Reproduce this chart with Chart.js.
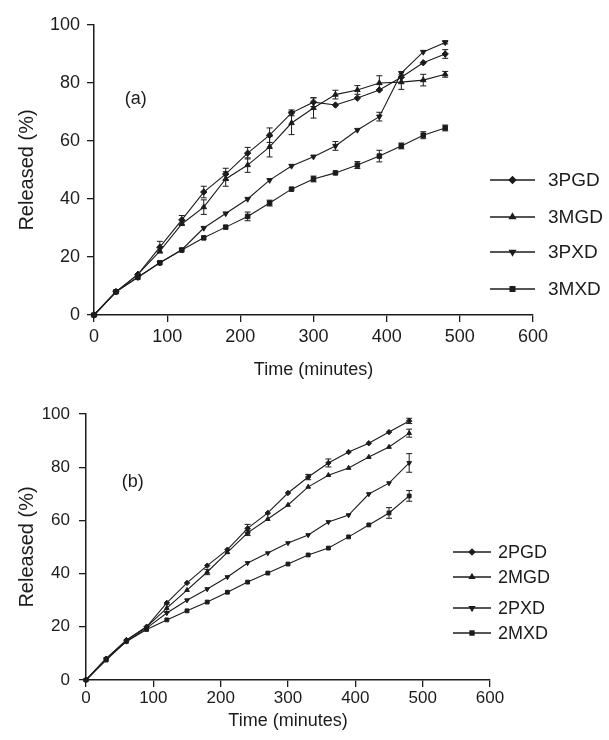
<!DOCTYPE html>
<html>
<head>
<meta charset="utf-8">
<script src="https://cdn.jsdelivr.net/npm/chart.js@4.4.0/dist/chart.umd.min.js"></script>
<style>
  body { margin: 0; background: #fff; }
  #wrap { position: relative; width: 609px; height: 740px; }
  .box { position: absolute; left: 0; }
</style>
</head>
<body>
<div id="wrap">
  <div class="box" style="top:0"><canvas id="chartA" width="609" height="390"></canvas></div>
  <div class="box" style="top:378px"><canvas id="chartB" width="609" height="362"></canvas></div>
</div>
<script>
// sampling times (minutes), same for every series
const times = [0, 30, 60, 90, 120, 150, 180, 210, 240, 270, 300, 330, 360, 390, 420, 450, 480];

// panel (a)
const labelsA = ['3PGD', '3MGD', '3PXD', '3MXD'];
const pgd3 = [0, 8, 14, 23.4, 32.8, 42.4, 48.6, 55.8, 62, 69.7, 73.4, 72.4, 74.8, 77.6, 82, 87, 90];
const mgd3 = [0, 8, 14, 22, 31.4, 37.2, 46.9, 51.7, 58, 66.2, 71.4, 76, 77.6, 80, 80.3, 81, 83];
const pxd3 = [0, 8, 13, 18, 22.5, 30, 35, 40, 46.5, 51.4, 54.6, 58.3, 63.8, 68.4, 83.4, 90.7, 94];
const mxd3 = [0, 8, 13, 18, 22.4, 26.6, 30.3, 34, 38.6, 43.4, 46.9, 49, 51.7, 54.8, 58.3, 62, 64.5];
const pgd3Err = [0, 0, 0, 2, 1.5, 2, 2, 2, 2.5, 1, 1.5, 0, 0, 0, 0, 0, 1.5];
const mgd3Err = [0, 0, 0, 0, 0, 2.5, 2.5, 2.5, 3.5, 4, 3.5, 1.5, 1.5, 2.5, 2.5, 2, 1];
const pxd3Err = [0, 0, 0, 0, 0, 0, 0, 0, 0, 0, 0, 1.5, 0, 1.5, 0, 0, 0.5];
const mxd3Err = [0, 0, 0, 0, 0, 0, 0, 1.5, 1, 0, 1, 0, 1.2, 2, 1, 1.2, 1];

// panel (b)
const labelsB = ['2PGD', '2MGD', '2PXD', '2MXD'];
const pgd2 = [0, 8, 15, 20, 29, 36.5, 43, 49, 57, 62.8, 70.3, 76.3, 81.6, 85.7, 89, 93.2, 97.4];
const mgd2 = [0, 8, 15, 20, 27, 33.8, 40.6, 48, 55.3, 60.5, 65.8, 72.6, 77, 79.7, 83.8, 87.6, 92.8];
const pxd2 = [0, 8, 14.5, 19.5, 25.2, 30, 34.2, 38.7, 44, 47.7, 51.5, 54.5, 59.4, 62, 69.9, 74, 81.6];
const mxd2 = [0, 7.5, 14.5, 19, 22.6, 26, 29.3, 33, 36.8, 40.2, 43.6, 47, 49.6, 53.8, 58.3, 62.8, 69.2];
const pgd2Err = [0, 0, 0, 0, 0, 0, 0, 0, 1.5, 0, 0, 1, 1.5, 0, 0, 0, 1];
const mgd2Err = [0, 0, 0, 0, 1.5, 0, 1, 0, 1, 0, 0, 0, 0, 0, 0, 0, 1.5];
const pxd2Err = [0, 0, 0, 0, 0, 0, 0, 0, 0, 0, 0, 0, 0, 0, 0, 0, 3.5];
const mxd2Err = [0, 0, 0, 0, 0, 0, 0, 0, 0, 0, 0, 0, 0, 0, 0, 2, 2];

const xTicks = [0, 100, 200, 300, 400, 500, 600];
const yTicks = [0, 20, 40, 60, 80, 100];

const ink = '#1c1c1c';
const font = '"Liberation Sans", Arial, sans-serif';
const markers = [
    { pointStyle: 'rectRot', rotation: 0 },
    { pointStyle: 'triangle', rotation: 0 },
    { pointStyle: 'triangle', rotation: 180 },
    { pointStyle: 'rect', rotation: 0 }
];

// error bars, panel tag and legend drawn on top of the datasets
const extras = {
    id: 'extras',
    afterDatasetsDraw(chart, args, opts) {
        const ctx = chart.ctx;
        const xs = chart.scales.x, ys = chart.scales.y;
        ctx.save();
        ctx.strokeStyle = ink;
        ctx.fillStyle = ink;
        ctx.lineWidth = 1;
        chart.data.datasets.forEach((ds, i) => {
            const meta = chart.getDatasetMeta(i);
            ds.errors.forEach((e, j) => {
                if (!e) return;
                const px = meta.data[j].x;
                const top = ys.getPixelForValue(ds.data[j].y + e);
                const bot = ys.getPixelForValue(ds.data[j].y - e);
                ctx.beginPath();
                ctx.moveTo(px, top); ctx.lineTo(px, bot);
                ctx.moveTo(px - 3, top); ctx.lineTo(px + 3, top);
                ctx.moveTo(px - 3, bot); ctx.lineTo(px + 3, bot);
                ctx.stroke();
            });
        });

        ctx.font = opts.tagSize + 'px ' + font;
        ctx.textBaseline = 'middle';
        ctx.textAlign = 'left';
        ctx.fillText(opts.tag, xs.getPixelForValue(opts.tagAt[0]), ys.getPixelForValue(opts.tagAt[1]));

        // legend
        const [x0, x1, tx] = opts.legendX;
        ctx.font = opts.legendSize + 'px ' + font;
        chart.data.datasets.forEach((ds, i) => {
            const ly = opts.legendY[i];
            ctx.lineWidth = 1.5;
            ctx.beginPath();
            ctx.moveTo(x0, ly); ctx.lineTo(x1, ly);
            ctx.stroke();
            Chart.helpers.drawPoint(ctx, {
                pointStyle: ds.pointStyle,
                rotation: ds.pointRotation,
                radius: ds.pointRadius,
                borderWidth: 1
            }, (x0 + x1) / 2, ly);
            ctx.fillStyle = ink;
            ctx.fillText(ds.label, tx, ly + 1);
        });
        ctx.restore();
    }
};

function axis(min, max, ticks, title, size, titleSize, tickPad, titlePad, fixed, isY) {
    return {
        type: 'linear',
        min: min,
        max: max,
        afterBuildTicks: (scale) => { scale.ticks = ticks.map(v => ({ value: v })); },
        afterFit: (scale) => {
            if (isY) scale.width = fixed; else scale.height = fixed;
        },
        ticks: { color: ink, font: { size: size, family: font }, padding: tickPad, maxRotation: 0, autoSkip: false },
        grid: { display: true, drawOnChartArea: false, drawTicks: true, tickLength: 7, color: ink, lineWidth: 1.3 },
        border: { display: true, color: ink, width: 1.5 },
        title: { display: true, text: title, color: ink, font: { size: titleSize, family: font }, padding: titlePad }
    };
}

function makeChart(id, labels, series, errs, radius, layout, xAxis, yAxis, extraOpts) {
    const datasets = series.map((vals, i) => ({
        label: labels[i],
        data: times.map((t, j) => ({ x: t, y: vals[j] })),
        errors: errs[i],
        borderColor: ink,
        backgroundColor: ink,
        borderWidth: 1.1,
        pointStyle: markers[i].pointStyle,
        pointRotation: markers[i].rotation,
        pointRadius: radius,
        pointBorderWidth: 1,
        tension: 0,
        clip: false
    }));
    new Chart(document.getElementById(id), {
        type: 'line',
        data: { datasets: datasets },
        options: {
            responsive: false,
            animation: false,
            layout: { padding: layout },
            plugins: { legend: { display: false }, tooltip: { enabled: false }, extras: extraOpts },
            scales: { x: xAxis, y: yAxis }
        },
        plugins: [extras]
    });
}

makeChart('chartA', labelsA, [pgd3, mgd3, pxd3, mxd3], [pgd3Err, mgd3Err, pxd3Err, mxd3Err], 3.2,
    { left: 0, top: 25, right: 76, bottom: 0 },
    axis(0, 600, xTicks, 'Time (minutes)', 18, 18, 4, { top: 0, bottom: 9 }, 75, false),
    axis(0, 100, yTicks, 'Released (%)', 18, 20, 7, { top: 15, bottom: 0 }, 94, true),
    { tag: '(a)', tagAt: [42, 74.5], tagSize: 18, legendSize: 19,
      legendX: [490, 535, 548], legendY: [180, 217, 252, 289] });

makeChart('chartB', labelsB, [pgd2, mgd2, pxd2, mxd2], [pgd2Err, mgd2Err, pxd2Err, mxd2Err], 2.7,
    { left: 0, top: 36, right: 119, bottom: 0 },
    axis(0, 600, xTicks, 'Time (minutes)', 17, 18, 1, { top: 0, bottom: 8 }, 60, false),
    axis(0, 100, yTicks, 'Released (%)', 17, 20, 9, { top: 15, bottom: 0 }, 86, true),
    { tag: '(b)', tagAt: [53, 74.4], tagSize: 18, legendSize: 18,
      legendX: [453, 491, 498], legendY: [174, 199, 230, 255] });
</script>
</body>
</html>
